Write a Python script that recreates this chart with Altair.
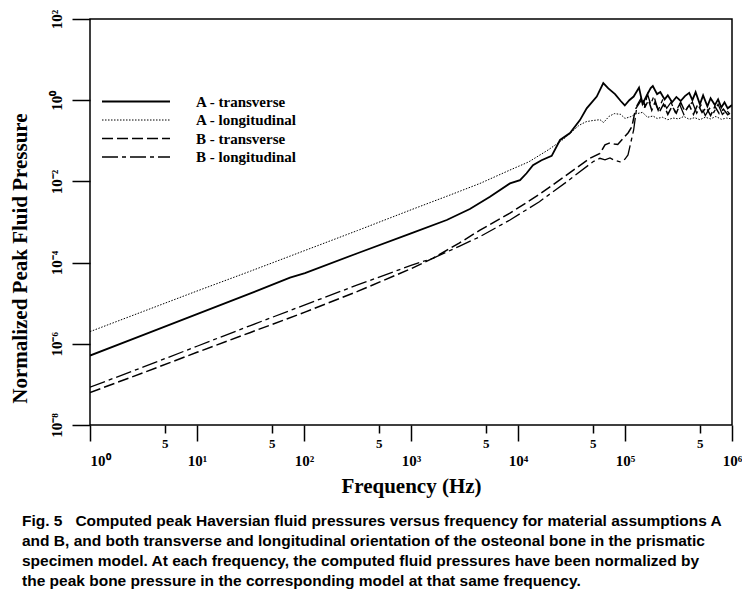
import altair as alt
import pandas as pd
import math

# ---------------- data (log10 values) ----------------
series_names = ["A - transverse", "A - longitudinal", "B - transverse", "B - longitudinal"]

a_trans_logf = [0.00, 0.50, 1.00, 1.50, 1.869, 2.009, 2.50, 3.00, 3.334, 3.55, 3.738, 3.925,
                4.019, 4.08, 4.14, 4.22, 4.315, 4.393, 4.486, 4.579, 4.642, 4.736, 4.797,
                4.844, 4.907, 4.96, 4.998, 5.04, 5.081, 5.131, 5.164, 5.20, 5.24, 5.26, 5.30,
                5.33, 5.37, 5.40, 5.44, 5.48, 5.52, 5.56, 5.60, 5.63, 5.66, 5.70, 5.73, 5.77,
                5.80, 5.84, 5.87, 5.90, 5.93, 5.96, 6.00]
a_trans_logp = [-6.29, -5.78, -5.27, -4.76, -4.37, -4.26, -3.77, -3.28, -2.95, -2.68, -2.38, -2.05,
                -1.97, -1.80, -1.60, -1.48, -1.37, -0.98, -0.81, -0.49, -0.20, 0.09, 0.42,
                0.29, 0.15, -0.02, -0.13, 0.00, 0.09, 0.31, -0.09, 0.10, 0.30, 0.35, 0.15,
                0.20, 0.02, 0.12, -0.05, 0.08, -0.02, 0.10, 0.18, 0.00, 0.20, -0.10, 0.12, -0.15,
                0.05, -0.12, 0.02, -0.18, -0.05, -0.20, -0.12]

a_long_logf = [0.00, 0.50, 1.00, 1.50, 1.87, 2.50, 3.00, 3.40, 3.645, 3.925, 4.10, 4.285,
               4.43, 4.57, 4.636, 4.70, 4.766, 4.80, 4.85, 4.90, 4.96, 5.00, 5.06, 5.098,
               5.164, 5.21, 5.262, 5.30, 5.35, 5.40, 5.45, 5.50, 5.55, 5.60, 5.65, 5.70,
               5.75, 5.80, 5.85, 5.90, 5.95, 6.00]
a_long_logp = [-5.70, -5.20, -4.70, -4.21, -3.84, -3.21, -2.70, -2.30, -2.05, -1.72, -1.52, -1.22,
               -0.95, -0.62, -0.53, -0.50, -0.48, -0.55, -0.40, -0.33, -0.35, -0.45, -0.40, -0.34,
               -0.30, -0.42, -0.39, -0.45, -0.42, -0.48, -0.44, -0.46, -0.40, -0.47, -0.43, -0.48,
               -0.42, -0.46, -0.40, -0.47, -0.44, -0.46]

b_trans_logf = [0.00, 0.50, 1.00, 1.50, 2.009, 2.50, 3.00, 3.208, 3.45, 3.645, 3.925, 4.20,
                4.45, 4.673, 4.766, 4.813, 4.86, 4.90, 4.932, 4.98, 5.03, 5.065, 5.098, 5.164,
                5.19, 5.22, 5.25, 5.28, 5.32, 5.36, 5.40, 5.44, 5.48, 5.52, 5.56, 5.60, 5.64,
                5.68, 5.72, 5.76, 5.80, 5.84, 5.88, 5.92, 5.96, 6.00]
b_trans_logp = [-7.20, -6.71, -6.21, -5.72, -5.22, -4.71, -4.15, -3.89, -3.52, -3.20, -2.78, -2.32,
                -1.85, -1.43, -1.31, -1.10, -1.05, -1.08, -1.09, -0.95, -0.80, -0.65, -0.22, 0.05,
                -0.15, 0.00, -0.25, -0.05, -0.30, -0.10, -0.35, -0.15, -0.32, -0.05, -0.28, -0.12, -0.35,
                -0.10, -0.30, -0.18, -0.38, -0.15, -0.33, -0.22, -0.36, -0.28]

b_long_logf = [0.00, 0.50, 1.00, 1.50, 2.009, 2.50, 3.00, 3.208, 3.45, 3.645, 3.925, 4.20,
               4.45, 4.704, 4.766, 4.813, 4.86, 4.90, 4.953, 5.00, 5.028, 5.081, 5.112, 5.15,
               5.18, 5.21, 5.24, 5.27, 5.31, 5.35, 5.39, 5.43, 5.47, 5.51, 5.55, 5.59, 5.63,
               5.67, 5.71, 5.75, 5.79, 5.83, 5.87, 5.91, 5.95, 6.00]
b_long_logp = [-7.07, -6.57, -6.06, -5.55, -5.04, -4.55, -4.07, -3.89, -3.60, -3.36, -2.95, -2.50,
               -2.02, -1.51, -1.43, -1.47, -1.42, -1.48, -1.52, -1.45, -1.35, -0.73, -0.13, 0.05,
               -0.20, 0.15, -0.10, 0.10, -0.25, 0.00, -0.20, -0.05, -0.30, -0.10, -0.35, -0.15, -0.05,
               -0.32, -0.12, -0.38, -0.20, -0.30, -0.10, -0.35, -0.25, -0.40]

x_major_ticks = [1, 10, 100, 1000, 10000, 100000, 1000000]
x_minor_ticks = [5, 50, 500, 5000, 50000, 500000]
y_ticks = [1e-8, 1e-6, 1e-4, 1e-2, 1, 1e2]

caption_lines = [
    "Fig. 5\u00a0\u00a0\u00a0Computed peak Haversian fluid pressures versus frequency for material assumptions A",
    "and B, and both transverse and longitudinal orientation of the osteonal bone in the prismatic",
    "specimen model. At each frequency, the computed fluid pressures have been normalized by",
    "the peak bone pressure in the corresponding model at that same frequency.",
]

# ---------------- styles ----------------
styles = {
    "A - transverse": dict(strokeWidth=1.8),
    "A - longitudinal": dict(strokeWidth=1.0, strokeDash=[1.5, 1.5]),
    "B - transverse": dict(strokeWidth=1.5, strokeDash=[11, 4]),
    "B - longitudinal": dict(strokeWidth=1.3, strokeDash=[16, 4, 4, 4]),
}
series_data = {
    "A - transverse": (a_trans_logf, a_trans_logp),
    "A - longitudinal": (a_long_logf, a_long_logp),
    "B - transverse": (b_trans_logf, b_trans_logp),
    "B - longitudinal": (b_long_logf, b_long_logp),
}

SERIF = "Liberation Serif"
SANS = "Liberation Sans Narrow, Liberation Sans, Arial"
SUP = str.maketrans("0123456789-", "⁰¹²³⁴⁵⁶⁷⁸⁹⁻")


def pow_label_expr(vals):
    expr = "''"
    for v in reversed(vals):
        e = round(math.log10(v))
        expr = f"abs(log(datum.value)/LN10 - ({e})) < 0.01 ? '10{str(e).translate(SUP)}' : ({expr})"
    return expr


x_scale = alt.Scale(type="log", domain=[1, 1e6])
y_scale = alt.Scale(type="log", domain=[1e-8, 1e2])

major_axis = alt.Axis(
    orient="bottom", values=x_major_ticks, labelExpr=pow_label_expr(x_major_ticks),
    tickSize=16, tickWidth=1.5, tickColor="black", domain=False, grid=False,
    labelFont=SERIF, labelFontWeight="bold", labelFontSize=15, labelColor="black",
    labelPadding=12, labelBaseline="top", labelFlush=False, labelOverlap=False,
    labelAlign={"condition": {"test": "datum.value <= 1", "value": "left"}, "value": "center"},
    title="Frequency (Hz)", titleFont=SERIF, titleFontWeight="bold", titleFontSize=21,
    titleColor="black", titleY=61, titleBaseline="middle",
)
minor_axis = alt.Axis(
    orient="bottom", values=x_minor_ticks, labelExpr="'5'",
    tickSize=8, tickWidth=1.5, tickColor="black", domain=False, grid=False,
    labelFont=SERIF, labelFontWeight="bold", labelFontSize=13, labelColor="black",
    labelPadding=4, labelBaseline="top", labelFlush=False, labelOverlap=False, title=None,
)
y_axis = alt.Axis(
    values=y_ticks, labelExpr=pow_label_expr(y_ticks),
    tickSize=18, tickWidth=1.5, tickColor="black", domain=False, grid=False,
    labelFont=SERIF, labelFontWeight="bold", labelFontSize=15, labelColor="black",
    labelAngle=270, labelAlign="center", labelBaseline="bottom", labelPadding=8,
    labelFlush=False, labelOverlap=False,
    title="Normalized Peak Fluid Pressure", titleFont=SERIF, titleFontWeight="bold",
    titleFontSize=21, titleColor="black", titleAngle=270, titleAlign="center",
    titleBaseline="middle", titleX=-70, titleY=239,
)

layers = []
for i, name in enumerate(series_names):
    lf, lp = series_data[name]
    df = pd.DataFrame({"f": [10 ** v for v in lf], "p": [10 ** v for v in lp], "series": name})
    layers.append(
        alt.Chart(df).mark_line(color="black", clip=True, **styles[name]).encode(
            x=alt.X("f:Q", scale=x_scale, axis=major_axis if i == 0 else None),
            y=alt.Y("p:Q", scale=y_scale, axis=y_axis),
            order="f:Q",
        )
    )

minor_df = pd.DataFrame({"v": x_minor_ticks})
layers.append(
    alt.Chart(minor_df).mark_point(opacity=0).encode(
        x=alt.X("v:Q", scale=x_scale, axis=minor_axis), y=alt.value(0)
    )
)

# legend (inside plot, upper left)
legend_rows = [82.5, 101, 119.5, 138]
for name, ry in zip(series_names, legend_rows):
    one = pd.DataFrame({"series": [name]})
    layers.append(
        alt.Chart(one).mark_rule(color="black", **styles[name]).encode(
            x=alt.value(12), x2=alt.value(80), y=alt.value(ry)
        )
    )
    layers.append(
        alt.Chart(one).mark_text(align="left", baseline="middle", font=SERIF,
                                 fontWeight="bold", fontSize=15, color="black").encode(
            x=alt.value(106), y=alt.value(ry), text="series:N"
        )
    )

# caption
for i, line in enumerate(caption_lines):
    layers.append(
        alt.Chart(pd.DataFrame({"t": [line]})).mark_text(
            align="left", baseline="middle", font=SANS, fontWeight="bold",
            fontSize=15.5, color="black").encode(
            x=alt.value(-68), y=alt.value(502 + 20 * i), text="t:N"
        )
    )

chart = alt.layer(*layers).resolve_axis(x="independent").properties(
    width=642, height=406,
    autosize=alt.AutoSizeParams(type="none"),
    padding={"left": 82, "top": 11, "right": 10, "bottom": 175},
    background="white",
).configure_view(stroke="black", strokeWidth=1.5)

chart.save("out.html", embed_options={"renderer": "svg", "actions": False})
